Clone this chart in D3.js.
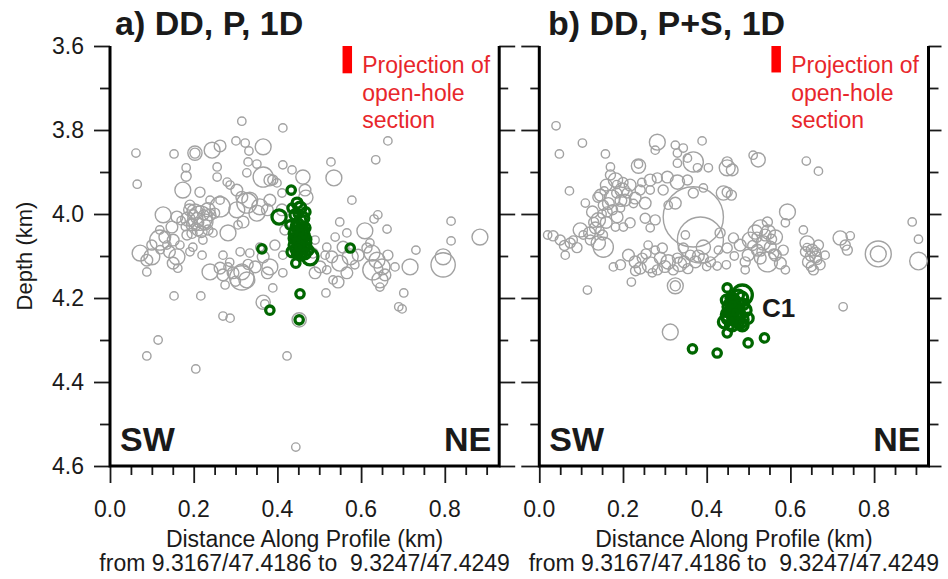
<!DOCTYPE html>
<html>
<head>
<meta charset="utf-8">
<script src="https://cdn.jsdelivr.net/npm/d3@7"></script>
<style>
  html, body { margin: 0; padding: 0; background: #fff; }
  svg { display: block; }
  text { font-family: "Liberation Sans", Arial, Helvetica, sans-serif; }
</style>
</head>
<body>
<div id="chart"></div>
<script>
// Relocated seismicity projected onto a SW-NE profile.
// Each event: [distance along profile (km), depth (km), location uncertainty (m)]

// a) double-difference, P picks only
const grayA = [
  [0.315,3.779,10],[0.413,3.795,10],[0.062,3.855,10],[0.065,3.929,10],[0.153,3.857,10],
  [0.203,3.855,17],[0.203,3.855,12],[0.244,3.848,19],[0.263,3.838,14],[0.301,3.826,10],
  [0.323,3.831,10],[0.366,3.840,19],[0.332,3.850,10],[0.330,3.876,10],[0.351,3.881,10],
  [0.327,3.902,10],[0.256,3.888,10],[0.182,3.890,10],[0.182,3.910,12],[0.366,3.912,24],
  [0.461,3.912,17],[0.413,3.883,10],[0.389,3.919,12],[0.174,3.943,19],[0.215,3.948,12],
  [0.280,3.924,10],[0.435,3.895,10],[0.382,3.919,14],[0.256,3.912,10],[0.287,3.931,10],
  [0.303,3.943,14],[0.315,3.960,14],[0.334,3.967,19],[0.358,3.983,19],[0.382,3.967,14],
  [0.399,3.926,10],[0.411,3.950,10],[0.127,4.002,19],[0.160,4.007,14],[0.148,4.031,14],
  [0.131,4.055,14],[0.119,4.062,24],[0.151,4.062,14],[0.215,3.990,10],[0.215,4.010,29],
  [0.203,3.995,19],[0.227,4.019,19],[0.196,4.026,14],[0.239,4.002,14],[0.210,4.038,14],
  [0.234,4.038,12],[0.191,3.979,12],[0.184,4.050,12],[0.167,4.074,10],[0.239,3.967,10],
  [0.263,3.967,10],[0.263,3.983,24],[0.303,3.990,19],[0.327,3.974,24],[0.351,3.998,19],
  [0.376,3.990,14],[0.318,4.019,14],[0.306,4.026,10],[0.282,4.045,19],[0.246,4.045,10],
  [0.222,4.062,10],[0.198,4.079,10],[0.191,4.090,10],[0.220,4.098,10],[0.270,4.098,10],
  [0.311,4.090,10],[0.334,4.093,10],[0.358,4.079,10],[0.366,4.102,14],[0.072,4.093,19],
  [0.088,4.110,14],[0.100,4.102,19],[0.088,4.138,10],[0.160,4.102,19],[0.151,4.117,14],
  [0.162,4.129,10],[0.136,4.074,10],[0.239,4.138,19],[0.263,4.129,14],[0.270,4.145,14],
  [0.282,4.126,10],[0.294,4.140,14],[0.315,4.138,19],[0.315,4.152,29],[0.327,4.157,19],
  [0.347,4.126,14],[0.376,4.140,14],[0.382,4.126,19],[0.413,4.140,10],[0.275,4.169,10],
  [0.389,4.176,10],[0.153,4.195,10],[0.217,4.195,10],[0.270,4.243,10],[0.287,4.248,10],
  [0.366,4.210,17],[0.370,4.214,10],[0.115,4.300,10],[0.088,4.338,10],[0.205,4.369,10],
  [0.423,4.338,10],[0.444,4.555,10],[0.452,4.252,17],[0.664,3.826,10],[0.528,3.876,10],
  [0.635,3.871,10],[0.535,3.914,19],[0.468,3.960,17],[0.578,3.967,10],[0.640,4.002,10],
  [0.631,4.012,10],[0.549,4.019,10],[0.662,4.036,10],[0.609,4.040,19],[0.815,4.017,10],
  [0.815,4.064,10],[0.884,4.055,19],[0.731,4.086,10],[0.538,4.055,10],[0.566,4.045,10],
  [0.621,4.069,10],[0.518,4.079,10],[0.530,4.102,14],[0.557,4.079,14],[0.574,4.102,19],
  [0.593,4.098,14],[0.549,4.117,19],[0.502,4.126,14],[0.490,4.140,14],[0.518,4.133,10],
  [0.533,4.157,10],[0.566,4.140,14],[0.585,4.121,10],[0.545,4.162,14],[0.626,4.093,19],
  [0.638,4.110,19],[0.650,4.126,19],[0.628,4.133,24],[0.645,4.157,19],[0.657,4.145,14],
  [0.614,4.081,12],[0.664,4.098,12],[0.681,4.126,10],[0.717,4.126,19],[0.796,4.102,19],
  [0.796,4.121,29],[0.702,4.188,10],[0.690,4.221,10],[0.698,4.226,10],[0.516,4.188,10],
  [0.645,4.174,10],[0.466,3.943,14],[0.411,3.990,14],[0.418,4.038,12],[0.394,4.074,12],
  [0.413,4.098,10],[0.485,4.093,12],[0.490,4.062,10],[0.514,4.098,10],[0.119,4.038,10],
  [0.100,4.074,12],[0.190,3.990,14],[0.200,4.000,10],[0.212,4.020,12],[0.186,4.012,17],
  [0.224,4.002,12],[0.205,4.030,10],[0.196,4.046,12],[0.230,4.024,10],[0.180,4.030,10],
  [0.218,4.042,14],[0.208,4.010,14],[0.193,4.020,10],[0.250,3.998,12],[0.234,3.990,17],
  [0.170,4.016,10],[0.142,4.090,14],[0.300,4.160,12],[0.286,4.115,10],[0.330,4.120,12],
  [0.120,4.085,10]
];
const greenA = [
  [0.433,3.943,10],[0.404,4.007,17],[0.363,4.083,10],[0.574,4.081,10],[0.454,4.190,10],
  [0.382,4.229,10],[0.452,4.252,10],[0.478,4.102,19],[0.444,4.117,10],[0.447,3.974,12],
  [0.454,3.986,14],[0.442,4.002,12],[0.461,4.010,14],[0.449,4.026,14],[0.466,4.033,12],
  [0.444,4.043,14],[0.459,4.052,17],[0.447,4.062,14],[0.466,4.069,14],[0.454,4.079,14],
  [0.440,4.074,12],[0.473,4.086,12],[0.435,4.090,12],[0.459,4.093,12],[0.430,4.026,10],
  [0.468,3.995,10],[0.435,3.986,10],[0.452,4.038,10],[0.450,4.000,10],[0.456,4.015,12],
  [0.445,4.030,12],[0.462,4.040,12],[0.452,4.048,10],[0.440,4.058,12],[0.458,4.065,12],
  [0.448,4.072,10],[0.464,4.078,12],[0.452,4.086,12],[0.442,4.084,10],[0.470,4.060,10],
  [0.438,4.046,10],[0.456,4.100,10],[0.466,4.095,12],[0.446,4.095,10],[0.460,4.030,10],
  [0.451,4.060,12],[0.452,4.035,6],[0.448,4.055,6],[0.458,4.072,6],[0.445,4.065,6],
  [0.462,4.050,6],[0.450,4.080,6],[0.456,4.044,6],[0.444,4.038,6]
];

// b) double-difference, P and S picks
const grayB = [
  [0.040,3.790,10],[0.103,3.831,10],[0.048,3.857,10],[0.158,3.857,10],[0.282,3.829,19],
  [0.277,3.848,10],[0.325,3.836,10],[0.344,3.843,10],[0.330,3.855,10],[0.389,3.826,10],
  [0.368,3.876,24],[0.354,3.867,10],[0.378,3.890,10],[0.404,3.890,10],[0.330,3.879,10],
  [0.449,3.890,19],[0.449,3.876,12],[0.237,3.886,17],[0.237,3.881,10],[0.170,3.888,10],
  [0.072,3.945,10],[0.110,3.974,10],[0.170,3.907,12],[0.182,3.919,17],[0.160,3.931,14],
  [0.198,3.943,17],[0.217,3.931,14],[0.241,3.943,12],[0.146,3.955,14],[0.174,3.962,19],
  [0.205,3.967,14],[0.229,3.962,14],[0.253,3.974,14],[0.153,3.979,12],[0.127,3.995,14],
  [0.141,4.014,17],[0.162,3.995,12],[0.194,3.986,10],[0.134,4.033,14],[0.151,4.050,12],
  [0.122,4.062,12],[0.098,4.038,17],[0.265,3.943,10],[0.186,4.007,14],[0.182,4.031,10],
  [0.201,4.031,10],[0.217,4.021,12],[0.265,3.919,14],[0.282,3.914,12],[0.306,3.912,14],
  [0.330,3.924,17],[0.354,3.919,12],[0.296,3.943,12],[0.368,3.950,12],[0.392,3.938,10],
  [0.325,3.974,14],[0.308,3.979,10],[0.253,4.010,12],[0.277,4.014,12],[0.265,4.033,10],
  [0.368,4.007,72],[0.385,4.062,55],[0.392,4.079,17],[0.349,4.050,10],[0.440,3.950,17],
  [0.449,3.948,12],[0.033,4.052,12],[0.050,4.062,12],[0.074,4.069,12],[0.081,4.062,10],
  [0.153,4.079,24],[0.141,4.069,17],[0.062,4.098,10],[0.177,4.126,10],[0.220,4.162,10],
  [0.115,4.181,10],[0.325,4.171,19],[0.325,4.171,12],[0.313,4.281,19],[0.213,4.098,14],
  [0.229,4.114,14],[0.246,4.105,12],[0.265,4.121,19],[0.289,4.105,14],[0.308,4.114,17],
  [0.330,4.105,12],[0.346,4.114,14],[0.361,4.098,12],[0.373,4.114,14],[0.392,4.105,12],
  [0.409,4.114,12],[0.241,4.129,14],[0.282,4.133,12],[0.320,4.133,12],[0.194,4.121,12],
  [0.294,4.081,12],[0.277,4.086,10],[0.344,4.081,12],[0.260,4.074,10],[0.425,4.124,10],
  [0.428,4.086,10],[0.447,4.121,10],[0.449,4.081,12],[0.432,4.045,12],[0.464,4.057,12],
  [0.480,4.074,14],[0.466,4.100,10],[0.504,4.062,19],[0.516,4.043,17],[0.528,4.033,19],
  [0.547,4.043,17],[0.564,4.055,17],[0.535,4.069,17],[0.552,4.079,14],[0.521,4.086,14],
  [0.499,4.098,14],[0.528,4.105,14],[0.564,4.098,14],[0.583,4.086,12],[0.545,4.114,24],
  [0.576,4.117,14],[0.588,4.133,10],[0.492,4.114,12],[0.593,3.995,19],[0.588,4.021,10],
  [0.545,4.019,12],[0.511,3.860,10],[0.523,3.871,17],[0.638,3.874,10],[0.667,3.898,10],
  [0.461,3.895,14],[0.459,3.955,12],[0.631,4.038,10],[0.640,4.069,17],[0.652,4.086,14],
  [0.667,4.074,12],[0.660,4.102,14],[0.643,4.114,14],[0.671,4.121,12],[0.655,4.133,12],
  [0.683,4.098,10],[0.636,4.090,12],[0.719,4.057,17],[0.743,4.052,10],[0.731,4.074,12],
  [0.736,4.086,12],[0.810,4.095,31],[0.810,4.095,19],[0.891,4.019,10],[0.906,4.060,10],
  [0.906,4.112,21],[0.726,4.221,10],[0.492,4.133,10],
  [0.140,3.960,12],[0.155,3.945,10],[0.165,3.975,14],[0.185,3.950,12],[0.195,3.968,14],
  [0.210,3.950,12],[0.225,3.975,10],[0.175,3.990,12],[0.150,4.000,10],[0.130,4.020,12],
  [0.160,4.020,14],[0.145,4.040,10],[0.120,4.045,14],[0.105,4.050,10],[0.185,3.930,10],
  [0.200,3.925,12],[0.245,3.925,10],[0.090,4.080,12],[0.020,4.050,10],[0.060,4.075,12],
  [0.255,4.095,12],[0.300,4.125,14],[0.335,4.120,17],[0.355,4.130,12],[0.380,4.100,14],
  [0.400,4.125,10],[0.270,4.140,10],[0.230,4.135,12],[0.540,4.050,14],[0.555,4.060,12],
  [0.520,4.055,12],[0.560,4.095,12],[0.530,4.090,10],[0.510,4.075,12],[0.648,4.100,12],
  [0.662,4.090,10],[0.650,4.125,12],[0.665,4.110,10],[0.640,4.080,10]
];
const greenB = [
  [0.449,4.176,10],[0.485,4.193,24],[0.480,4.252,19],[0.449,4.283,10],[0.366,4.321,10],
  [0.425,4.331,10],[0.499,4.307,10],[0.538,4.295,10],[0.464,4.205,14],[0.456,4.221,17],
  [0.473,4.217,17],[0.452,4.240,17],[0.468,4.248,17],[0.442,4.257,14],[0.485,4.264,14],
  [0.461,4.264,14],[0.492,4.229,14],[0.476,4.193,12],[0.447,4.205,12],[0.499,4.248,12],
  [0.458,4.200,12],[0.468,4.210,12],[0.460,4.230,14],[0.475,4.235,14],[0.450,4.250,12],
  [0.470,4.255,12],[0.455,4.265,10],[0.480,4.240,12],[0.488,4.215,12],[0.465,4.225,10],
  [0.445,4.245,10],[0.478,4.258,10],[0.462,4.245,12],[0.455,4.215,10],[0.484,4.200,14],
  [0.460,4.240,6],[0.470,4.245,6],[0.455,4.235,6],[0.465,4.260,6],[0.475,4.225,6],
  [0.458,4.255,6],[0.468,4.235,6],[0.462,4.215,6]
];

// Projection of the open-hole section of the well: [distance (km), top depth, bottom depth]
const openHoleA = [0.567, 3.600, 3.665];
const openHoleB = [0.566, 3.600, 3.663];

// Annotated cluster
const clusterLabelsB = [{ text: "C1", dist: 0.532, depth: 4.245 }];

// Axes
const xMajorTicks = [0.0, 0.2, 0.4, 0.6, 0.8];
const xMinorTicks = [0.05, 0.1, 0.15, 0.25, 0.3, 0.35, 0.45, 0.5, 0.55, 0.65, 0.7, 0.75, 0.85, 0.9];
const yMajorTicks = [3.6, 3.8, 4.0, 4.2, 4.4, 4.6];
const yMinorTicks = [3.7, 3.9, 4.1, 4.3, 4.5];
const xTitle = "Distance Along Profile (km)";
const xSubtitle = "from 9.3167/47.4186 to  9.3247/47.4249";
const yTitle = "Depth (km)";

const W = 948, H = 579;
const svg = d3.select("#chart").append("svg")
  .attr("width", W).attr("height", H)
  .style("background", "#fff");

const y = d3.scaleLinear().domain([3.6, 4.6]).range([46, 466]);

const panels = [
  { title: "a) DD, P, 1D", titleX: 115, left: 110, gray: grayA, green: greenA, hole: openHoleA, labels: [], yLabels: true, rightTick: [16, 9], leftTick: [16, 10] },
  { title: "b) DD, P+S, 1D", titleX: 548, left: 539.3, gray: grayB, green: greenB, hole: openHoleB, labels: clusterLabelsB, yLabels: false, rightTick: [13, 10], leftTick: [18, 9] }
];

const ink = "#1a1a1a";
const fs = 23;

panels.forEach(p => {
  const x = d3.scaleLinear().domain([0, 0.93]).range([p.left, p.left + 389.2]);
  const kmPx = x(1) - x(0);
  const rad = e => (e / 1000) * kmPx;
  const g = svg.append("g");
  const [x0, x1] = x.range();

  // ticks
  const tickStyle = sel => {
    sel.select(".domain").remove();
    sel.selectAll(".tick line").attr("stroke", ink).attr("stroke-width", 1.8);
    sel.selectAll(".tick text").remove();
  };
  g.append("g").attr("transform", `translate(0,${y.range()[1]})`)
    .call(d3.axisBottom(x).tickValues(xMajorTicks).tickSize(17)).call(tickStyle);
  g.append("g").attr("transform", `translate(0,${y.range()[1]})`)
    .call(d3.axisBottom(x).tickValues(xMinorTicks).tickSize(9)).call(tickStyle);
  g.append("g").attr("transform", `translate(${x0},0)`)
    .call(d3.axisLeft(y).tickValues(yMajorTicks).tickSize(p.leftTick[0])).call(tickStyle);
  g.append("g").attr("transform", `translate(${x0},0)`)
    .call(d3.axisLeft(y).tickValues(yMinorTicks).tickSize(p.leftTick[1])).call(tickStyle);
  g.append("g").attr("transform", `translate(${x1},0)`)
    .call(d3.axisRight(y).tickValues(yMajorTicks).tickSize(p.rightTick[0])).call(tickStyle);
  g.append("g").attr("transform", `translate(${x1},0)`)
    .call(d3.axisRight(y).tickValues(yMinorTicks).tickSize(p.rightTick[1])).call(tickStyle);

  // frame (left, bottom, right)
  g.append("path")
    .attr("d", `M${x0},${y(3.6)}V${y(4.6)}H${x1}V${y(3.6)}`)
    .attr("fill", "none").attr("stroke", "#000").attr("stroke-width", 3)
    .attr("stroke-linejoin", "miter");

  // tick labels
  g.selectAll(".xl").data(xMajorTicks).join("text")
    .attr("x", d => x(d)).attr("y", 517)
    .attr("text-anchor", "middle").attr("font-size", fs).attr("fill", ink)
    .text(d => d3.format(".1f")(d));
  if (p.yLabels) {
    g.selectAll(".yl").data(yMajorTicks).join("text")
      .attr("x", 84).attr("y", d => y(d) + 8)
      .attr("text-anchor", "end").attr("font-size", fs).attr("fill", ink)
      .text(d => d3.format(".1f")(d));
    g.append("text")
      .attr("transform", `translate(32,${(y(3.6) + y(4.6)) / 2}) rotate(-90)`)
      .attr("text-anchor", "middle").attr("font-size", 22).attr("fill", ink)
      .text(yTitle);
  }

  // axis titles
  const cx = (x0 + x1) / 2;
  g.append("text").attr("x", cx).attr("y", 547)
    .attr("text-anchor", "middle").attr("font-size", fs).attr("fill", ink)
    .text(xTitle);
  g.append("text").attr("x", cx).attr("y", 571)
    .attr("text-anchor", "middle").attr("font-size", fs).attr("fill", ink)
    .style("white-space", "pre")
    .text(xSubtitle);

  // panel title
  g.append("text").attr("x", p.titleX).attr("y", 35)
    .attr("font-size", 34).attr("font-weight", "bold").attr("fill", ink)
    .text(p.title);

  // SW / NE
  g.append("text").attr("x", x0 + 10).attr("y", 451)
    .attr("font-size", 34).attr("font-weight", "bold").attr("fill", ink).text("SW");
  g.append("text").attr("x", x1 - 8).attr("y", 451).attr("text-anchor", "end")
    .attr("font-size", 34).attr("font-weight", "bold").attr("fill", ink).text("NE");

  // open-hole projection
  g.append("rect")
    .attr("x", x(p.hole[0]) - 4.75).attr("width", 9.5)
    .attr("y", y(p.hole[1])).attr("height", y(p.hole[2]) - y(p.hole[1]))
    .attr("fill", "#ff0000");
  const note = g.append("text").attr("font-size", fs).attr("fill", "#e8262b");
  ["Projection of", "open-hole", "section"].forEach((t, i) => {
    note.append("tspan").attr("x", x(p.hole[0]) + 15).attr("y", 73 + i * 27.5).text(t);
  });

  // events
  g.append("g").selectAll("circle").data(p.gray).join("circle")
    .attr("cx", d => x(d[0])).attr("cy", d => y(d[1])).attr("r", d => rad(d[2]))
    .attr("fill", "none").attr("stroke", "#a2a2a2").attr("stroke-width", 1.4);
  g.append("g").selectAll("circle").data(p.green).join("circle")
    .attr("cx", d => x(d[0])).attr("cy", d => y(d[1])).attr("r", d => rad(d[2]))
    .attr("fill", "none").attr("stroke", "#006600").attr("stroke-width", 3.3);

  // cluster labels
  g.selectAll(".cl").data(p.labels).join("text")
    .attr("x", d => x(d.dist)).attr("y", d => y(d.depth))
    .attr("font-size", 26).attr("font-weight", "bold").attr("fill", ink)
    .text(d => d.text);
});
</script>
</body>
</html>
